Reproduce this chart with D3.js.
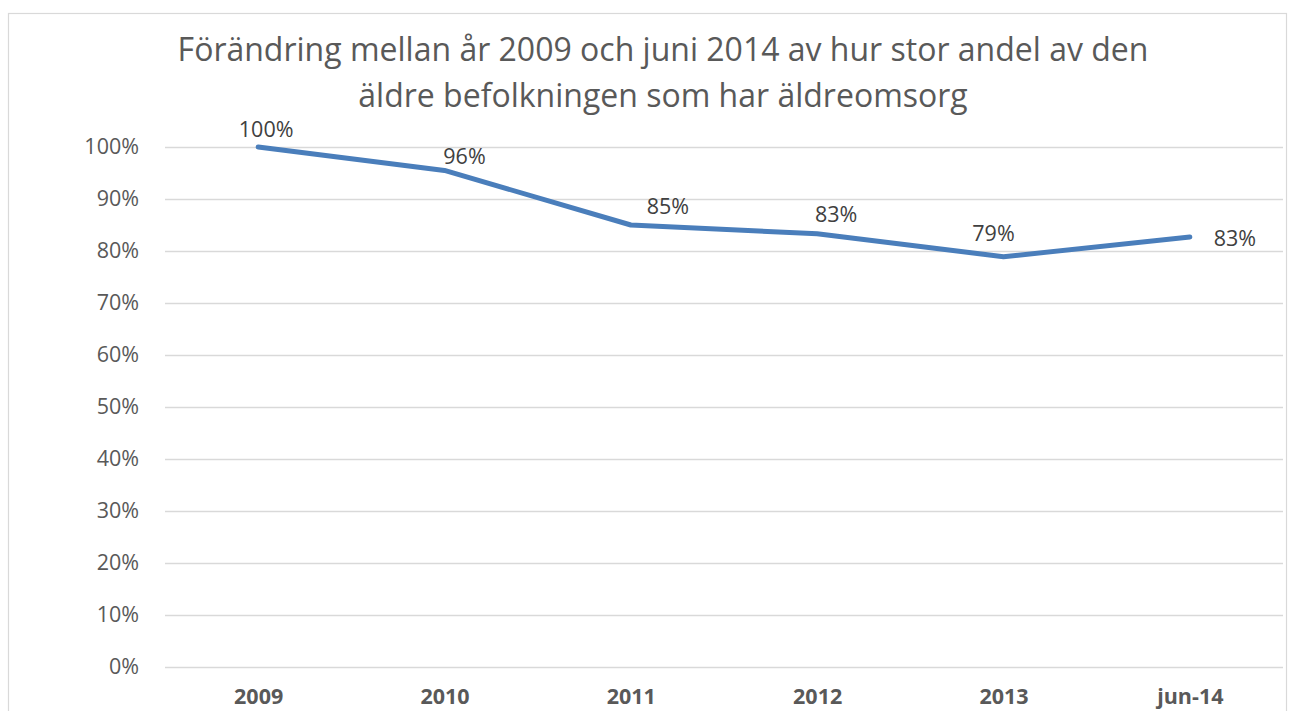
<!DOCTYPE html>
<html>
<head>
<meta charset="utf-8">
<script src="https://cdn.jsdelivr.net/npm/d3@7"></script>
<style>
  body { margin: 0; background: #fff; }
  svg { display: block; font-family: "Open Sans", "Noto Sans", sans-serif; }
</style>
</head>
<body>
<svg id="chart" width="1290" height="711"></svg>
<script>
const categories = ['2009', '2010', '2011', '2012', '2013', 'jun-14'];
const values = [1.00, 0.955, 0.85, 0.833, 0.789, 0.827];
const valueLabels = ['100%', '96%', '85%', '83%', '79%', '83%'];
const yTicks = [0, 0.1, 0.2, 0.3, 0.4, 0.5, 0.6, 0.7, 0.8, 0.9, 1.0];
const titleLines = [
  'Förändring mellan år 2009 och juni 2014 av hur stor andel av den',
  'äldre befolkningen som har äldreomsorg'
];

// where Excel put each data label relative to its point
const labelOffsets = [[8, -10], [20, -6], [37, -11], [19, -12], [-10, -16], [45, 9]];

const svg = d3.select('#chart');
const margin = { top: 147, right: 7, bottom: 44, left: 165 };
const width = +svg.attr('width');
const height = +svg.attr('height');

// chart border
svg.append('rect')
  .attr('x', 8.5).attr('y', 13.5)
  .attr('width', width - 12).attr('height', height)
  .attr('fill', 'none')
  .attr('stroke', '#d9d9d9')
  .attr('stroke-width', 1.2);

const x = d3.scalePoint()
  .domain(categories)
  .range([margin.left, width - margin.right])
  .padding(0.5);

const y = d3.scaleLinear()
  .domain([0, 1])
  .range([height - margin.bottom, margin.top]);

// gridlines + y labels
const yAxis = svg.append('g')
  .attr('transform', `translate(${margin.left},0)`)
  .call(d3.axisLeft(y)
    .tickValues(yTicks)
    .tickFormat(d3.format('.0%'))
    .tickSize(-(width - margin.right - margin.left))
    .tickPadding(26));
yAxis.select('.domain').remove();
yAxis.selectAll('.tick line')
  .attr('stroke', '#d9d9d9')
  .attr('stroke-width', 1.5);
yAxis.selectAll('.tick text')
  .attr('fill', '#595959')
  .attr('font-size', 21.5)
  .attr('font-family', '"Open Sans", sans-serif');

// x labels
const xAxis = svg.append('g')
  .attr('transform', `translate(0,${height - margin.bottom})`)
  .call(d3.axisBottom(x).tickSize(0).tickPadding(22));
xAxis.select('.domain').remove();
xAxis.selectAll('.tick text')
  .attr('fill', '#595959')
  .attr('font-size', 21.5)
  .attr('font-weight', 'bold')
  .attr('font-family', '"Open Sans", sans-serif');

// title
svg.append('text')
  .attr('x', 663)
  .attr('y', 61)
  .attr('text-anchor', 'middle')
  .attr('fill', '#595959')
  .attr('font-size', 32)
  .selectAll('tspan')
  .data(titleLines)
  .join('tspan')
  .attr('x', 663)
  .attr('dy', (d, i) => i === 0 ? 0 : 46)
  .text(d => d);

// line
const line = d3.line()
  .x((d, i) => x(categories[i]))
  .y(d => y(d));

svg.append('path')
  .datum(values)
  .attr('fill', 'none')
  .attr('stroke', '#4a7ebb')
  .attr('stroke-width', 5)
  .attr('stroke-linecap', 'round')
  .attr('stroke-linejoin', 'round')
  .attr('d', line);

// data labels
svg.append('g')
  .selectAll('text')
  .data(values)
  .join('text')
  .attr('x', (d, i) => x(categories[i]) + labelOffsets[i][0])
  .attr('y', (d, i) => y(d) + labelOffsets[i][1])
  .attr('text-anchor', 'middle')
  .attr('fill', '#404040')
  .attr('font-size', 21.5)
  .text((d, i) => valueLabels[i]);
</script>
</body>
</html>
